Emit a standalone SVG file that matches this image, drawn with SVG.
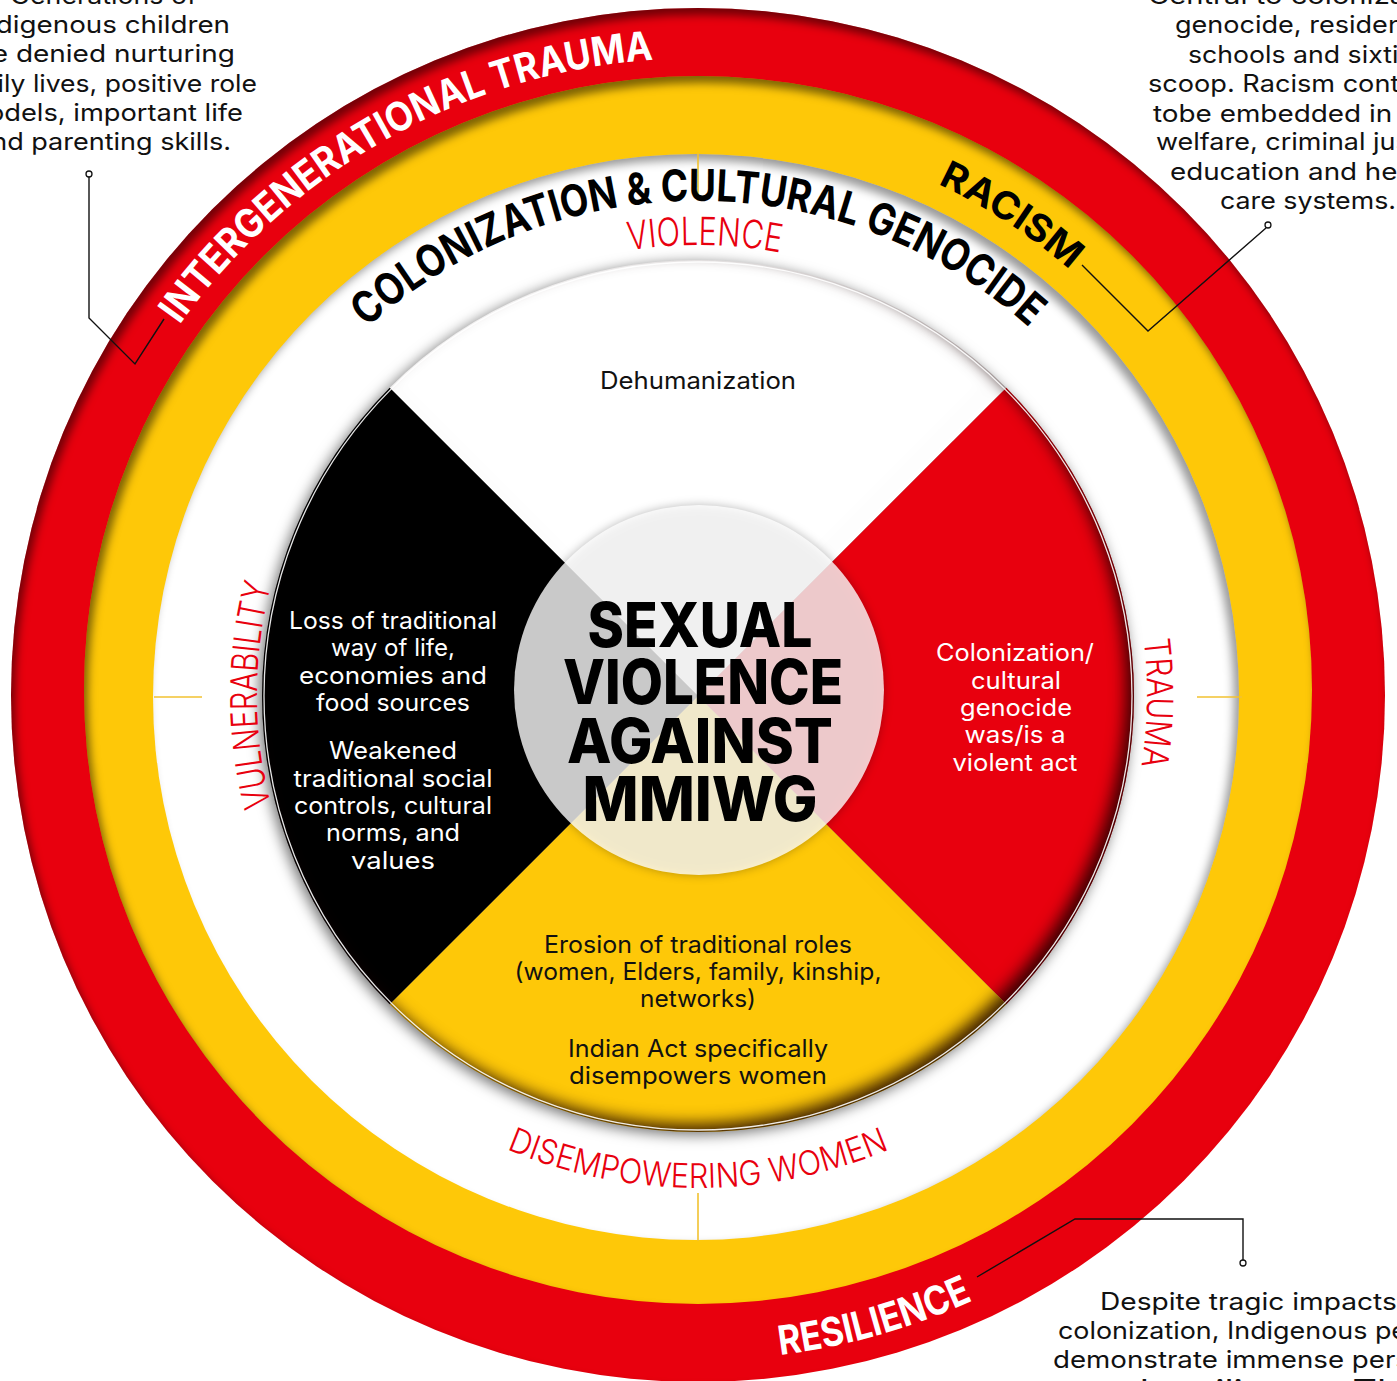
<svg xmlns="http://www.w3.org/2000/svg" width="1397" height="1381" viewBox="0 0 1397 1381">
<defs>
<style>
.body{font-family:Inter,"Open Sans","DejaVu Sans",sans-serif;font-size:24px;}
.blk{fill:#111}
.wht{fill:#fff}
.mid{text-anchor:middle}
.end{text-anchor:end}
.arcB{font-family:Inter,"DejaVu Sans",sans-serif;font-weight:700;}
.arcL{font-family:Inter,"DejaVu Sans",sans-serif;font-weight:300;fill:#E8000E}
.ctr{font-family:Inter,"DejaVu Sans",sans-serif;font-weight:800;font-size:62px;fill:#000;text-anchor:middle}
.lead{fill:none;stroke:#111;stroke-width:1.4}
.dot{fill:#fff;stroke:#111;stroke-width:1.3}
.tick{stroke:#F2C230;stroke-width:1.6}
</style>
<filter id="inTL" x="-5%" y="-5%" width="110%" height="110%" color-interpolation-filters="sRGB">
  <feOffset in="SourceAlpha" dx="4" dy="7"/>
  <feGaussianBlur stdDeviation="4" result="b"/>
  <feComposite in="SourceAlpha" in2="b" operator="out" result="rim"/>
  <feFlood flood-color="#000" flood-opacity="0.5"/>
  <feComposite in2="rim" operator="in" result="sh"/>
  <feMerge><feMergeNode in="SourceGraphic"/><feMergeNode in="sh"/></feMerge>
</filter>
<filter id="inTR" x="-5%" y="-5%" width="110%" height="110%" color-interpolation-filters="sRGB">
  <feOffset in="SourceAlpha" dx="-5" dy="6"/>
  <feGaussianBlur stdDeviation="5" result="b"/>
  <feComposite in="SourceAlpha" in2="b" operator="out" result="rim"/>
  <feFlood flood-color="#000" flood-opacity="0.4"/>
  <feComposite in2="rim" operator="in" result="sh"/>
  <feMerge><feMergeNode in="SourceGraphic"/><feMergeNode in="sh"/></feMerge>
</filter>
<filter id="wheelFx" x="-10%" y="-10%" width="120%" height="120%" color-interpolation-filters="sRGB">
  <feGaussianBlur in="SourceAlpha" stdDeviation="7" result="g"/>
  <feOffset in="g" dx="-3" dy="3" result="go"/>
  <feFlood flood-color="#000" flood-opacity="0.55"/>
  <feComposite in2="go" operator="in" result="glow"/>
  <feOffset in="SourceAlpha" dx="-8" dy="-8" result="o2"/>
  <feGaussianBlur in="o2" stdDeviation="8" result="b2"/>
  <feComposite in="SourceAlpha" in2="b2" operator="out" result="rim"/>
  <feFlood flood-color="#1a0000" flood-opacity="0.85"/>
  <feComposite in2="rim" operator="in" result="inner"/>
  <feMerge><feMergeNode in="glow"/><feMergeNode in="SourceGraphic"/><feMergeNode in="inner"/></feMerge>
</filter>
<filter id="ctrFx" x="-15%" y="-15%" width="130%" height="130%" color-interpolation-filters="sRGB">
  <feGaussianBlur in="SourceAlpha" stdDeviation="5" result="g"/>
  <feFlood flood-color="#000" flood-opacity="0.35"/>
  <feComposite in2="g" operator="in" result="glow"/>
  <feMerge><feMergeNode in="glow"/><feMergeNode in="SourceGraphic"/></feMerge>
</filter>
<path id="p-inter" d="M 102.3 469.3 A 637 637 0 0 1 816.8 69.2"/>
<path id="p-racism" d="M 699.9 131 A 564 564 0 0 1 1214.6 466"/>
<path id="p-colon" d="M 232 527 A 496 496 0 0 1 1164 527"/>
<path id="p-violence" d="M 414 345.9 A 450 450 0 0 1 992.3 354.6"/>
<path id="p-vuln" d="M 360.2 978.5 A 441 441 0 0 1 360.2 411.5"/>
<path id="p-trauma" d="M 1046.9 412.4 A 449 449 0 0 1 1036.9 989.6"/>
<path id="p-disemp" d="M 271.1 941.5 A 493 493 0 0 0 1124.9 941.5"/>
<path id="p-resil" d="M 424.9 1301.3 A 665 665 0 0 0 1247.7 1069.3"/>
</defs>

<rect width="1397" height="1381" fill="#fff"/>

<g id="ring-red" filter="url(#inTL)">
  <circle cx="698" cy="695" r="687" fill="#E8000E"/>
</g>
<g id="ring-yellow" filter="url(#inTL)">
  <circle cx="698" cy="690" r="614" fill="#FEC808"/>
</g>
<g id="ring-white" filter="url(#inTR)">
  <circle cx="696" cy="697" r="543" fill="#fff"/>
</g>

<g id="ticks">
  <line class="tick" x1="698" y1="153" x2="698" y2="199"/>
  <line class="tick" x1="154" y1="697" x2="202" y2="697"/>
  <line class="tick" x1="1197" y1="697" x2="1242" y2="697"/>
  <line class="tick" x1="698" y1="1193" x2="698" y2="1241"/>
</g>

<g id="wheel">
  <g filter="url(#wheelFx)">
    <path d="M 698 696 L 389.7 387.7 A 436 436 0 0 1 1006.3 387.7 Z" fill="#fff"/>
    <path d="M 698 696 L 1006.3 387.7 A 436 436 0 0 1 1006.3 1004.3 Z" fill="#E8000E"/>
    <path d="M 698 696 L 1006.3 1004.3 A 436 436 0 0 1 389.7 1004.3 Z" fill="#FEC808"/>
    <path d="M 698 696 L 389.7 1004.3 A 436 436 0 0 1 389.7 387.7 Z" fill="#000"/>
  </g>
  <circle cx="698" cy="696" r="434" fill="none" stroke="#fff" stroke-width="1.3" opacity="0.9"/>
</g>

<g id="quadrant-white">
  <text class="body blk mid" x="698" y="389" textLength="196" lengthAdjust="spacingAndGlyphs">Dehumanization</text>
</g>
<g id="quadrant-black">
  <text class="body wht mid" x="393" y="629" textLength="208" lengthAdjust="spacingAndGlyphs">Loss of traditional</text>
  <text class="body wht mid" x="393" y="656" textLength="124" lengthAdjust="spacingAndGlyphs">way of life,</text>
  <text class="body wht mid" x="393" y="684" textLength="188" lengthAdjust="spacingAndGlyphs">economies and</text>
  <text class="body wht mid" x="393" y="711" textLength="154" lengthAdjust="spacingAndGlyphs">food sources</text>
  <text class="body wht mid" x="393" y="759" textLength="128" lengthAdjust="spacingAndGlyphs">Weakened</text>
  <text class="body wht mid" x="393" y="787" textLength="199" lengthAdjust="spacingAndGlyphs">traditional social</text>
  <text class="body wht mid" x="393" y="814" textLength="198" lengthAdjust="spacingAndGlyphs">controls, cultural</text>
  <text class="body wht mid" x="393" y="841" textLength="134" lengthAdjust="spacingAndGlyphs">norms, and</text>
  <text class="body wht mid" x="393" y="869" textLength="84" lengthAdjust="spacingAndGlyphs">values</text>
</g>
<g id="quadrant-red">
  <text class="body wht mid" x="1015" y="661" textLength="158" lengthAdjust="spacingAndGlyphs">Colonization/</text>
  <text class="body wht mid" x="1016" y="689" textLength="90" lengthAdjust="spacingAndGlyphs">cultural</text>
  <text class="body wht mid" x="1016" y="716" textLength="112" lengthAdjust="spacingAndGlyphs">genocide</text>
  <text class="body wht mid" x="1015" y="743" textLength="101" lengthAdjust="spacingAndGlyphs">was/is a</text>
  <text class="body wht mid" x="1015" y="771" textLength="125" lengthAdjust="spacingAndGlyphs">violent act</text>
</g>
<g id="quadrant-yellow">
  <text class="body blk mid" x="698" y="953" textLength="308" lengthAdjust="spacingAndGlyphs">Erosion of traditional roles</text>
  <text class="body blk mid" x="698" y="980" textLength="367" lengthAdjust="spacingAndGlyphs">(women, Elders, family, kinship,</text>
  <text class="body blk mid" x="698" y="1007" textLength="116" lengthAdjust="spacingAndGlyphs">networks)</text>
  <text class="body blk mid" x="698" y="1057" textLength="260" lengthAdjust="spacingAndGlyphs">Indian Act specifically</text>
  <text class="body blk mid" x="698" y="1084" textLength="258" lengthAdjust="spacingAndGlyphs">disempowers women</text>
</g>

<g id="center">
  <circle cx="699" cy="690" r="185" fill="#fff" fill-opacity="0.79" filter="url(#ctrFx)"/>
  <text class="ctr" x="700" y="647" textLength="225" lengthAdjust="spacingAndGlyphs">SEXUAL</text>
  <text class="ctr" x="703" y="704" textLength="280" lengthAdjust="spacingAndGlyphs">VIOLENCE</text>
  <text class="ctr" x="700" y="763" textLength="266" lengthAdjust="spacingAndGlyphs">AGAINST</text>
  <text class="ctr" x="700" y="821" textLength="235" lengthAdjust="spacingAndGlyphs">MMIWG</text>
</g>

<g id="arc-labels">
  <text class="arcB" font-size="40" fill="#fff"><textPath href="#p-inter" startOffset="50%" text-anchor="middle" textLength="561" lengthAdjust="spacingAndGlyphs">INTERGENERATIONAL TRAUMA</textPath></text>
  <text class="arcB" font-size="38" fill="#000"><textPath href="#p-racism" startOffset="50%" text-anchor="middle" textLength="158" lengthAdjust="spacingAndGlyphs">RACISM</textPath></text>
  <text class="arcB" font-size="44" fill="#000"><textPath href="#p-colon" startOffset="50%" text-anchor="middle" textLength="725" lengthAdjust="spacingAndGlyphs">COLONIZATION &amp; CULTURAL GENOCIDE</textPath></text>
  <text class="arcL" font-size="39"><textPath href="#p-violence" startOffset="50%" text-anchor="middle" textLength="152" lengthAdjust="spacingAndGlyphs">VIOLENCE</textPath></text>
  <text class="arcL" font-size="37"><textPath href="#p-vuln" startOffset="50%" text-anchor="middle" textLength="223" lengthAdjust="spacingAndGlyphs">VULNERABILITY</textPath></text>
  <text class="arcL" font-size="36"><textPath href="#p-trauma" startOffset="50%" text-anchor="middle" textLength="127" lengthAdjust="spacingAndGlyphs">TRAUMA</textPath></text>
  <text class="arcL" font-size="34" font-weight="400"><textPath href="#p-disemp" startOffset="50%" text-anchor="middle" textLength="393" lengthAdjust="spacingAndGlyphs">DISEMPOWERING WOMEN</textPath></text>
  <text class="arcB" font-size="40" fill="#fff"><textPath href="#p-resil" startOffset="50%" text-anchor="middle" textLength="201" lengthAdjust="spacingAndGlyphs">RESILIENCE</textPath></text>
</g>

<g id="note-left">
  <text class="body blk end" x="197" y="4" textLength="187" lengthAdjust="spacingAndGlyphs">Generations of</text>
  <text class="body blk end" x="230" y="33" textLength="258" lengthAdjust="spacingAndGlyphs">Indigenous children</text>
  <text class="body blk end" x="235" y="62" textLength="292" lengthAdjust="spacingAndGlyphs">were denied nurturing</text>
  <text class="body blk end" x="257" y="92" textLength="307" lengthAdjust="spacingAndGlyphs">family lives, positive role</text>
  <text class="body blk end" x="243" y="121" textLength="279" lengthAdjust="spacingAndGlyphs">models, important life</text>
  <text class="body blk end" x="231" y="150" textLength="255" lengthAdjust="spacingAndGlyphs">and parenting skills.</text>
</g>
<g id="note-right">
  <text class="body blk" x="1148" y="4" textLength="320" lengthAdjust="spacingAndGlyphs">Central to colonization/</text>
  <text class="body blk" x="1175" y="33" textLength="266" lengthAdjust="spacingAndGlyphs">genocide, residential</text>
  <text class="body blk" x="1188" y="63" textLength="240" lengthAdjust="spacingAndGlyphs">schools and sixties</text>
  <text class="body blk" x="1148" y="92" textLength="320" lengthAdjust="spacingAndGlyphs">scoop. Racism continues</text>
  <text class="body blk" x="1153" y="122" textLength="310" lengthAdjust="spacingAndGlyphs">tobe embedded in child</text>
  <text class="body blk" x="1156" y="150" textLength="308" lengthAdjust="spacingAndGlyphs">welfare, criminal justice,</text>
  <text class="body blk" x="1170" y="180" textLength="276" lengthAdjust="spacingAndGlyphs">education and health</text>
  <text class="body blk" x="1220" y="209" textLength="176" lengthAdjust="spacingAndGlyphs">care systems.</text>
</g>
<g id="note-bottom">
  <text class="body blk" x="1100" y="1310" textLength="332" lengthAdjust="spacingAndGlyphs">Despite tragic impacts of</text>
  <text class="body blk" x="1058" y="1339" textLength="418" lengthAdjust="spacingAndGlyphs">colonization, Indigenous peoples</text>
  <text class="body blk" x="1053" y="1368" textLength="478" lengthAdjust="spacingAndGlyphs">demonstrate immense perseverance</text>
  <text class="body blk" x="1082" y="1397" textLength="360" lengthAdjust="spacingAndGlyphs">and resilience. They</text>
</g>

<g id="connectors">
  <path class="lead" d="M 89 177 V 318 L 135 364 L 164 319"/>
  <circle class="dot" cx="89" cy="174" r="3"/>
  <path class="lead" d="M 1266 228 L 1148 331 L 1082 265"/>
  <circle class="dot" cx="1268" cy="225" r="3"/>
  <path class="lead" d="M 1243 1260 V 1219 H 1075 L 977 1277"/>
  <circle class="dot" cx="1243" cy="1263" r="3"/>
</g>
</svg>
